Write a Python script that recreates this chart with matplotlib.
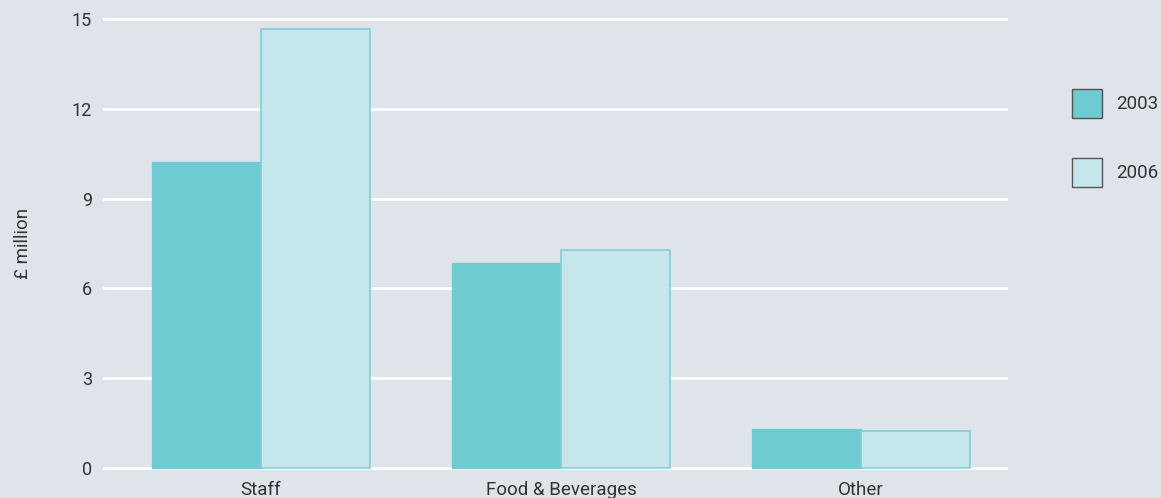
import matplotlib
matplotlib.use("Agg")
import matplotlib.pyplot as plt
import numpy as np
from matplotlib.patches import Patch

categories = ["Staff", "Food & Beverages", "Other"]
series_names = ["2003", "2006"]
values_2003 = [10.22, 6.85, 1.30]
values_2006 = [14.67, 7.28, 1.24]
y_ticks = [0, 3, 6, 9, 12, 15]

bg = "#dfe4ea"
col_2003 = "#6ecbd2"
col_2006 = "#c5e6ea"
text_col = "#333333"

plt.rcParams["font.family"] = ["Roboto", "DejaVu Sans"]

fig = plt.figure(figsize=(11.61, 4.98), dpi=100, facecolor=bg)
ax = fig.add_axes([0.0887, 0.0542, 0.7793, 0.9137])
ax.set_facecolor(bg)

x = np.arange(len(categories))
w = 0.363
ax.bar(x - w / 2, values_2003, w, color=col_2003, edgecolor=col_2003, linewidth=1, zorder=3)
ax.bar(x + w / 2, values_2006, w, color=col_2006, edgecolor="#7fd0d7", linewidth=1.2, zorder=3)

ax.set_xlim(-0.527, 2.49)
ax.set_ylim(-0.1, 15.1)
ax.set_yticks(y_ticks)
ax.set_yticklabels([str(t) for t in y_ticks])
ax.set_xticks(x)
ax.set_xticklabels(categories)
ax.yaxis.grid(True, color="white", linewidth=2.2, zorder=0)
ax.tick_params(axis="both", length=0, labelsize=13, colors=text_col)
ax.tick_params(axis="y", pad=8)
ax.tick_params(axis="x", pad=7, labelsize=13.5)
for s in ax.spines.values():
    s.set_visible(False)

ax.set_ylabel("£ million", fontsize=13.5, color=text_col)
ax.yaxis.set_label_coords(-0.079, 0.5)

handles = [Patch(facecolor=col_2003, edgecolor="#555555", linewidth=1),
           Patch(facecolor=col_2006, edgecolor="#555555", linewidth=1)]
fig.legend(handles, series_names, loc="upper left", bbox_to_anchor=(0.917, 0.837),
           frameon=False, fontsize=13.5, handlelength=1.6, handleheight=2.0,
           labelspacing=2.15, handletextpad=0.75, labelcolor=text_col, borderaxespad=0)

fig.savefig("out.png", dpi=100, facecolor=bg)
